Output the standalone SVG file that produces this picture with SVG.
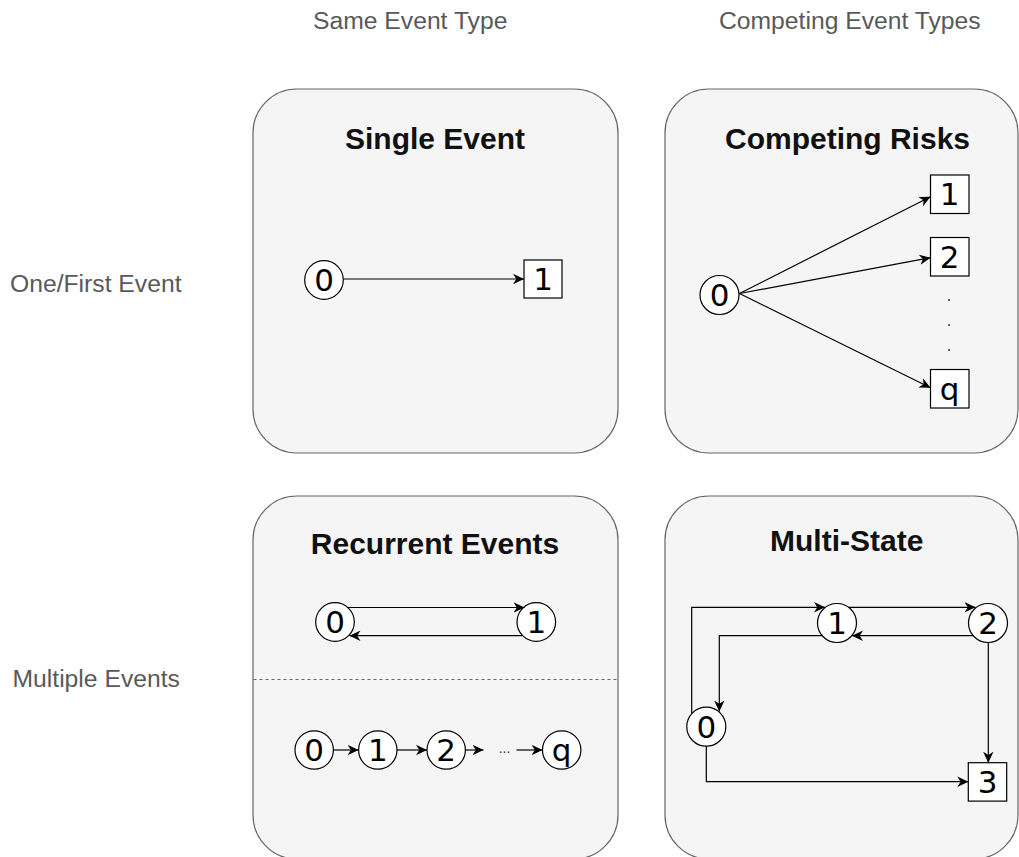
<svg xmlns="http://www.w3.org/2000/svg" width="1019" height="857" viewBox="0 0 1019 857">
  <style>
    .panel { fill: #f5f5f5; stroke: #666666; stroke-width: 1.2; }
    .title { font-family: "Liberation Sans", Arial, sans-serif; font-weight: bold; font-size: 30px; fill: #111111; text-anchor: middle; }
    .axis { font-family: "Liberation Sans", Arial, sans-serif; font-size: 24.7px; fill: #595959; }
    .state { fill: #ffffff; stroke: #000000; stroke-width: 1.2; }
    .num { font-family: "DejaVu Sans", sans-serif; font-size: 31px; fill: #000000; text-anchor: middle; }
    .edge { fill: none; stroke: #000000; stroke-width: 1.2; marker-end: url(#arrow); }
    .divider { stroke: #666666; stroke-width: 1; stroke-dasharray: 3 3; }
  </style>
  <defs>
    <marker id="arrow" markerUnits="userSpaceOnUse" markerWidth="13" markerHeight="12" refX="11" refY="6" orient="auto" viewBox="0 0 13 12">
      <path d="M0,0.8 L11,6 L0,11.2 L3.3,6 Z" fill="#000000"/>
    </marker>
  </defs>

  <rect width="1019" height="857" fill="#ffffff"/>

  <!-- axis labels -->
  <g id="axis-labels">
    <text class="axis" x="313" y="29">Same Event Type</text>
    <text class="axis" x="719" y="29">Competing Event Types</text>
    <text class="axis" x="10" y="292">One/First Event</text>
    <text class="axis" x="12.5" y="687">Multiple Events</text>
  </g>

  <!-- panel: single event -->
  <g id="single-event">
    <rect class="panel" x="253" y="89" width="365" height="364" rx="44" ry="44"/>
    <text class="title" x="435" y="149">Single Event</text>
    <g id="se-0">
      <circle class="state" cx="324" cy="280" r="19.3"/>
      <text class="num" x="324" y="291">0</text>
    </g>
    <g id="se-1">
      <rect class="state" x="524" y="260" width="38" height="38"/>
      <text class="num" x="543" y="290">1</text>
    </g>
  </g>

  <!-- panel: competing risks -->
  <g id="competing-risks">
    <rect class="panel" x="665" y="89" width="353" height="364" rx="44" ry="44"/>
    <text class="title" x="847.5" y="148.5">Competing Risks</text>
    <g id="cr-0">
      <circle class="state" cx="719.5" cy="295" r="19.5"/>
      <text class="num" x="719.5" y="306">0</text>
    </g>
    <g id="cr-1">
      <rect class="state" x="930.5" y="175" width="38.5" height="38.5"/>
      <text class="num" x="949.7" y="205">1</text>
    </g>
    <g id="cr-2">
      <rect class="state" x="930.5" y="237.5" width="38.5" height="38.5"/>
      <text class="num" x="949.7" y="267.5">2</text>
    </g>
    <g id="cr-q">
      <rect class="state" x="930.5" y="369.5" width="38.5" height="38.5"/>
      <text class="num" x="949.7" y="399.5">q</text>
    </g>
    <g id="cr-ellipsis" fill="#333333">
      <circle cx="949" cy="300" r="1"/>
      <circle cx="949" cy="325" r="1"/>
      <circle cx="949" cy="350" r="1"/>
    </g>
  </g>

  <!-- panel: recurrent events -->
  <g id="recurrent-events">
    <rect class="panel" x="253" y="496" width="365" height="363" rx="44" ry="44"/>
    <text class="title" x="435" y="554">Recurrent Events</text>
    <line class="divider" x1="253.5" y1="679.5" x2="617.5" y2="679.5"/>
    <g id="re-0">
      <circle class="state" cx="335" cy="622" r="19.3"/>
      <text class="num" x="335" y="633">0</text>
    </g>
    <g id="re-1">
      <circle class="state" cx="536.3" cy="622" r="19.3"/>
      <text class="num" x="536.3" y="633">1</text>
    </g>
    <g id="rc-0">
      <circle class="state" cx="314.2" cy="750" r="19.2"/>
      <text class="num" x="314.2" y="761">0</text>
    </g>
    <g id="rc-1">
      <circle class="state" cx="377.8" cy="750" r="19.2"/>
      <text class="num" x="377.8" y="761">1</text>
    </g>
    <g id="rc-2">
      <circle class="state" cx="446.2" cy="750" r="19.2"/>
      <text class="num" x="446.2" y="761">2</text>
    </g>
    <g id="rc-q">
      <circle class="state" cx="561.7" cy="750" r="19.2"/>
      <text class="num" x="561.7" y="761">q</text>
    </g>
    <text x="504.5" y="752.5" font-family="Liberation Sans, Arial, sans-serif" font-size="14" fill="#333333" text-anchor="middle">...</text>
  </g>

  <!-- panel: multi-state -->
  <g id="multi-state">
    <rect class="panel" x="665" y="496" width="353" height="363" rx="44" ry="44"/>
    <text class="title" x="846.7" y="551">Multi-State</text>
    <g id="ms-1">
      <circle class="state" cx="837" cy="623" r="19.5"/>
      <text class="num" x="837" y="634">1</text>
    </g>
    <g id="ms-2">
      <circle class="state" cx="988" cy="623" r="19.5"/>
      <text class="num" x="988" y="634">2</text>
    </g>
    <g id="ms-0">
      <circle class="state" cx="706.3" cy="726.7" r="19.5"/>
      <text class="num" x="706.3" y="737.7">0</text>
    </g>
    <g id="ms-3">
      <rect class="state" x="968.3" y="762.7" width="38.4" height="38.4"/>
      <text class="num" x="987.5" y="792.5">3</text>
    </g>
  </g>

  <!-- transitions -->
  <g id="connectors">
    <path class="edge" d="M343.5,279 L524,279"/>

    <path class="edge" d="M739.5,293.5 L930.5,196.7"/>
    <path class="edge" d="M739.5,293.5 L930.5,257.7"/>
    <path class="edge" d="M739.5,293.5 L930.5,387.7"/>

    <path class="edge" d="M347,607.5 L524.5,607.5"/>
    <path class="edge" d="M522,635.7 L349.5,635.7"/>

    <path class="edge" d="M333.4,750 L358.6,750"/>
    <path class="edge" d="M397,750 L427,750"/>
    <path class="edge" d="M465.4,750 L483.5,750"/>
    <path class="edge" d="M516.5,750 L542.5,750"/>

    <path class="edge" d="M691.7,713.5 L691.7,607.3 L825,607.3"/>
    <path class="edge" d="M848.6,607.3 L975.5,607.3"/>
    <path class="edge" d="M973.2,635.7 L852,635.7"/>
    <path class="edge" d="M822.2,635.7 L719.3,635.7 L719.3,711.5"/>
    <path class="edge" d="M988.3,642.5 L988.3,762.7"/>
    <path class="edge" d="M706.3,746.2 L706.3,781.7 L968.3,781.7"/>
  </g>
</svg>
